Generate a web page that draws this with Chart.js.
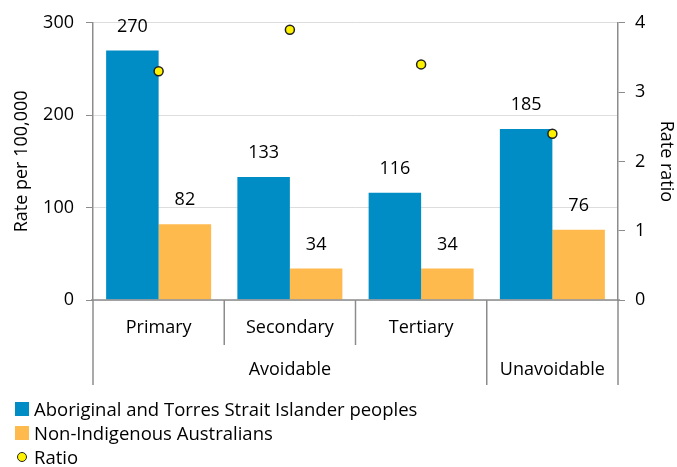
<!DOCTYPE html>
<html>
<head>
<meta charset="utf-8">
<script src="https://cdn.jsdelivr.net/npm/chart.js@4.4.0/dist/chart.umd.min.js"></script>
<style>
  body { margin: 0; background: #fff; }
  #wrap { position: relative; width: 677px; height: 467px; }
  #legend { position: absolute; left: 15px; top: 397px; font-family: "Open Sans", sans-serif; font-size: 18.5px; color: #000; }
  #legend div { height: 24px; line-height: 24px; display: flex; align-items: center; }
  #legend span.box { display: inline-block; width: 14px; height: 14px; margin-right: 5px; }
  #legend span.dot { display: inline-block; width: 8px; height: 8px; border-radius: 50%; border: 1.5px solid #222; background: #fff200; margin: 0 7px 0 2px; }
</style>
</head>
<body>
<div id="wrap">
  <canvas id="chart" width="677" height="467"></canvas>
  <div id="legend"></div>
</div>
<script>
// data
const categories = ['Primary', 'Secondary', 'Tertiary', 'Unavoidable'];
const subLabels = ['Primary', 'Secondary', 'Tertiary', ''];
const groupLabels = ['Avoidable', 'Avoidable', 'Avoidable', 'Unavoidable'];
const indigenousRates = [270, 133, 116, 185];
const nonIndigenousRates = [82, 34, 34, 76];
const rateRatios = [3.3, 3.9, 3.4, 2.4];
const rateTicks = [0, 100, 200, 300];
const ratioTicks = [0, 1, 2, 3, 4];

const FONT = '"Open Sans", sans-serif';
const FSIZE = 18;
const BLUE = 'rgb(0,140,196)';
const ORANGE = 'rgb(255,186,78)';
const AXIS = '#8c8c8c';

// labels over bars + two-level category axis
const extras = {
    id: 'extras',
    afterDatasetsDraw(chart) {
        const ctx = chart.ctx;
        ctx.save();
        ctx.font = FSIZE + 'px ' + FONT;
        ctx.fillStyle = '#000';
        ctx.textAlign = 'center';
        ctx.textBaseline = 'middle';
        [0, 1].forEach(i => {
            const meta = chart.getDatasetMeta(i);
            meta.data.forEach((bar, j) => {
                ctx.fillText(chart.data.datasets[i].data[j], bar.x, bar.y - 24);
            });
        });
        ctx.restore();
    },
    afterDraw(chart) {
        const ctx = chart.ctx;
        const x = chart.scales.x;
        const area = chart.chartArea;
        const w = x.getPixelForValue(1) - x.getPixelForValue(0);
        ctx.save();
        ctx.strokeStyle = AXIS;
        ctx.lineWidth = 1.5;
        ctx.beginPath();
        ctx.moveTo(area.left - 2, area.bottom);
        ctx.lineTo(area.right + 2, area.bottom);
        ctx.stroke();

        ctx.font = FSIZE + 'px ' + FONT;
        ctx.fillStyle = '#000';
        ctx.textAlign = 'center';
        ctx.textBaseline = 'middle';
        subLabels.forEach((c, i) => {
            ctx.fillText(c, x.getPixelForValue(i), area.bottom + 28);
        });
        // separators
        for (let i = 0; i <= categories.length; i++) {
            const px = x.getPixelForValue(0) - w / 2 + i * w;
            const isGroupEdge = i === 0 || i === categories.length || groupLabels[i] !== groupLabels[i - 1];
            ctx.beginPath();
            ctx.moveTo(px, area.bottom);
            ctx.lineTo(px, area.bottom + (isGroupEdge ? 85 : 45));
            ctx.stroke();
        }
        // group labels
        let start = 0;
        for (let i = 1; i <= groupLabels.length; i++) {
            if (i === groupLabels.length || groupLabels[i] !== groupLabels[start]) {
                const left = x.getPixelForValue(start) - w / 2;
                const right = x.getPixelForValue(i - 1) + w / 2;
                ctx.fillText(groupLabels[start], (left + right) / 2, area.bottom + 70);
                start = i;
            }
        }
        ctx.restore();
    }
};

const ctx = document.getElementById('chart').getContext('2d');
const chart = new Chart(ctx, {
    type: 'bar',
    data: {
        labels: categories,
        datasets: [
            { label: 'Aboriginal and Torres Strait Islander peoples', data: indigenousRates, backgroundColor: BLUE, yAxisID: 'y', order: 1 },
            { label: 'Non-Indigenous Australians', data: nonIndigenousRates, backgroundColor: ORANGE, yAxisID: 'y', order: 1 },
            { type: 'line', label: 'Ratio', data: rateRatios, yAxisID: 'y1', showLine: false, order: 0,
              pointRadius: 4.5, pointBackgroundColor: '#fff200', pointBorderColor: '#222', pointBorderWidth: 1.5 }
        ]
    },
    options: {
        responsive: false,
        animation: false,
        layout: { padding: { top: 14, bottom: 167 } },
        datasets: { bar: { categoryPercentage: 0.8, barPercentage: 1.0 } },
        plugins: { legend: { display: false }, tooltip: { enabled: false } },
        scales: {
            x: { display: false, offset: true },
            y: {
                position: 'left', min: 0, max: 300,
                afterBuildTicks: s => { s.ticks = rateTicks.map(v => ({ value: v })); },
                afterFit: s => { s.width = 93; },
                grid: { color: '#dddddd', tickColor: AXIS, tickLength: 7 },
                border: { color: AXIS, width: 1.5 },
                ticks: { color: '#000', font: { family: FONT, size: FSIZE }, padding: 12 },
                title: { display: true, text: 'Rate per 100,000', color: '#000', font: { family: FONT, size: FSIZE }, padding: { top: 11, bottom: 0 } }
            },
            y1: {
                position: 'right', min: 0, max: 4,
                afterBuildTicks: s => { s.ticks = ratioTicks.map(v => ({ value: v })); },
                afterFit: s => { s.width = 59; },
                grid: { drawOnChartArea: false, tickColor: AXIS, tickLength: 7 },
                border: { color: AXIS, width: 1.5 },
                ticks: { color: '#000', font: { family: FONT, size: FSIZE }, padding: 10 },
                title: { display: true, text: 'Rate ratio', color: '#000', font: { family: FONT, size: FSIZE }, padding: 0 }
            }
        }
    },
    plugins: [extras]
});

// legend, one entry per line
const legend = document.getElementById('legend');
chart.data.datasets.forEach((ds, i) => {
    const row = document.createElement('div');
    const mark = document.createElement('span');
    if (ds.type === 'line') {
        mark.className = 'dot';
    } else {
        mark.className = 'box';
        mark.style.background = ds.backgroundColor;
    }
    row.appendChild(mark);
    row.appendChild(document.createTextNode(ds.label));
    legend.appendChild(row);
});
</script>
</body>
</html>
